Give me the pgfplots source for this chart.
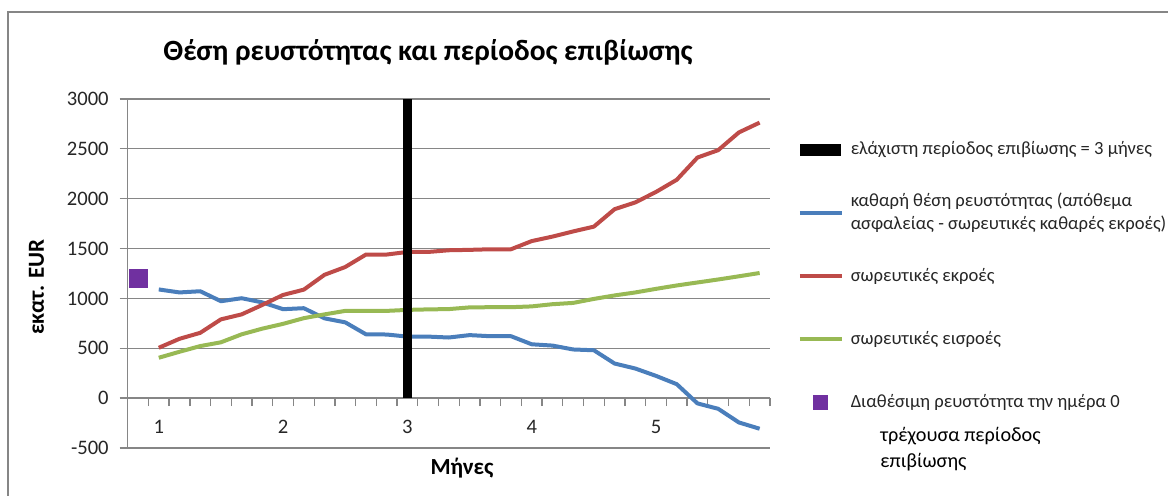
\documentclass[border=0pt]{standalone}
\usepackage{pgfplots}
\pgfplotsset{compat=1.18}
\usepackage{fontspec}
\setmainfont{Carlito}
\definecolor{cblue}{HTML}{4A7EBB}
\definecolor{cred}{HTML}{BE4B48}
\definecolor{cgreen}{HTML}{98B954}
\definecolor{cpurple}{HTML}{7030A0}
\definecolor{cgrid}{HTML}{868686}
% fixed-height legend cells so the rows keep an even pitch
\newcommand{\lgtxt}[1]{\parbox[c][24pt][c]{170pt}{\raggedright #1}}

\begin{document}
\begin{tikzpicture}
\path[use as bounding box] (0,0) rectangle (584pt,248pt);
\draw[cgrid, line width=1pt] (4pt,-5pt) -- (4pt,242pt) -- (590pt,242pt);

\begin{axis}[
  scale only axis, width=321.15pt, height=174.5pt,
  at={(63.85pt,24pt)}, anchor=south west,
  xmin=-0.5, xmax=30.5, ymin=-500, ymax=3000,
  axis y line*=left, axis x line*=middle,
  hide obscured x ticks=false, hide obscured y ticks=false,
  axis line style={cgrid, line width=0.65pt},
  ytick={-500,0,...,3000},
  ymajorgrids, grid style={cgrid, line width=0.65pt},
  xtick={-0.5,0.5,...,30.5}, xticklabels={},
  extra x ticks={1,7,13,19,25}, extra x tick labels={1,2,3,4,5},
  extra x tick style={major tick length=0pt, xticklabel style={yshift=-7.5pt}},
  tick align=outside, major tick length=4pt,
  tick style={cgrid, line width=0.65pt},
  tick label style={font=\fontsize{10.3}{12}\selectfont, text=black!85},
  yticklabel style={xshift=-2pt},
  /pgf/number format/assume math mode=true,
  /pgf/number format/1000 sep={},
  clip=false,
  legend image code/.code={\draw[#1] (0pt,0pt) -- (21pt,0pt);},
  legend style={at={(1.0432,0.9226)}, anchor=north west, draw=none, fill=none,
    inner sep=0pt, outer sep=0pt, row sep=7.5pt, column sep=3.5pt,
    nodes={inner sep=0pt, text depth=, text height=, text=black!85,
      font=\fontsize{9.3}{11.5}\selectfont}},
  legend cell align=left,
]

\addlegendimage{legend image code/.code={\fill[black] (0.5pt,-2.75pt) rectangle (20.5pt,2.75pt);}}
\addlegendentry{\lgtxt{ελάχιστη περίοδος επιβίωσης = 3 μήνες}}
\addlegendimage{cblue, line width=2pt}
\addlegendentry{\lgtxt{καθαρή θέση ρευστότητας (απόθεμα\newline ασφαλείας - σωρευτικές καθαρές εκροές)}}
\addlegendimage{cred, line width=2pt}
\addlegendentry{\lgtxt{σωρευτικές εκροές}}
\addlegendimage{cgreen, line width=2pt}
\addlegendentry{\lgtxt{σωρευτικές εισροές}}
\addlegendimage{legend image code/.code={\fill[cpurple] (7pt,-3.5pt) rectangle (14pt,3.5pt);}}
\addlegendentry{\lgtxt{Διαθέσιμη ρευστότητα την ημέρα 0}}

% net liquidity position
\addplot[cblue, line width=2pt, line join=round, forget plot] coordinates {
  (1,1090) (2,1060) (3,1072) (4,972) (5,1002) (6,960) (7,892) (8,902)
  (9,800) (10,760) (11,640) (12,638) (13,617) (14,617) (15,608) (16,632)
  (17,621) (18,621) (19,540) (20,527) (21,488) (22,480) (23,347) (24,297)
  (25,223) (26,140) (27,-53) (28,-107) (29,-244) (30,-307)
};
% cumulative outflows
\addplot[cred, line width=2pt, line join=round, forget plot] coordinates {
  (1,505) (2,595) (3,655) (4,790) (5,840) (6,935) (7,1035) (8,1088)
  (9,1237) (10,1315) (11,1440) (12,1440) (13,1466) (14,1466) (15,1483) (16,1487)
  (17,1493) (18,1493) (19,1575) (20,1620) (21,1672) (22,1720) (23,1895) (24,1963)
  (25,2068) (26,2190) (27,2413) (28,2487) (29,2665) (30,2763)
};
% cumulative inflows
\addplot[cgreen, line width=2pt, line join=round, forget plot] coordinates {
  (1,405) (2,465) (3,522) (4,560) (5,640) (6,697) (7,745) (8,802)
  (9,840) (10,875) (11,875) (12,875) (13,885) (14,890) (15,893) (16,910)
  (17,912) (18,912) (19,920) (20,942) (21,955) (22,995) (23,1030) (24,1060)
  (25,1096) (26,1130) (27,1160) (28,1190) (29,1222) (30,1255)
};
% available liquidity at day 0
\addplot[only marks, mark=square*, mark size=4.5pt, cpurple, forget plot] coordinates {(0,1205)};
% minimum survival period
\addplot[ybar, bar width=4.5pt, fill=black, draw=none, forget plot] coordinates {(13,3000)};
\end{axis}

\node[font=\bfseries\fontsize{14.7}{17}\selectfont] at (214pt,222pt) {Θέση ρευστότητας και περίοδος επιβίωσης};
\node[font=\bfseries\fontsize{11.5}{14}\selectfont, rotate=90] at (18.3pt,104.5pt) {εκατ. EUR};
\node[font=\bfseries\fontsize{11.5}{14}\selectfont] at (231pt,14pt) {Μήνες};
\node[anchor=west, align=left, font=\fontsize{10.1}{13}\selectfont, inner sep=0pt] at (440pt,23.5pt) {τρέχουσα περίοδος\\επιβίωσης};
\end{tikzpicture}
\end{document}
